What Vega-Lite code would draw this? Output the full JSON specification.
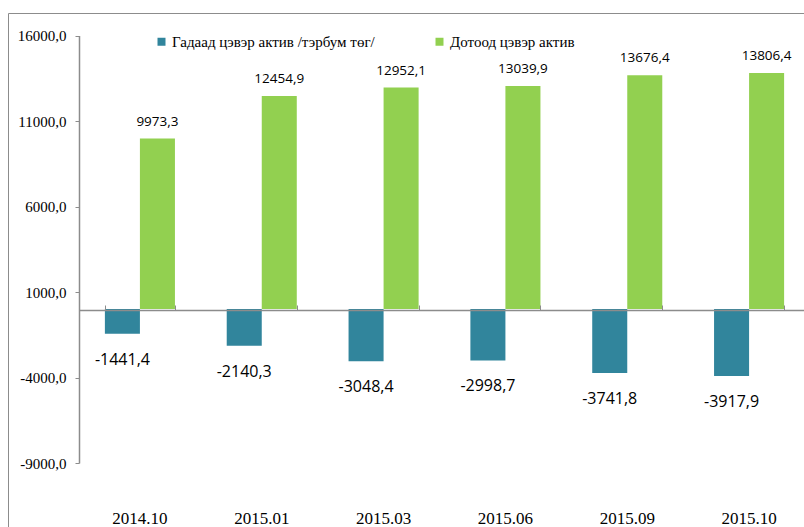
{
  "$schema": "https://vega.github.io/schema/vega-lite/v6.json",
  "width": 796,
  "height": 514,
  "autosize": {"type": "none"},
  "padding": {"left": 8, "top": 13, "right": 0, "bottom": 0},
  "config": {
    "locale": {"number": {"decimal": ",", "thousands": "", "grouping": [3], "currency": ["", ""], "minus": "-"}},
    "view": {"stroke": "#8c8c8c", "strokeWidth": 1},
    "axis": {"grid": false, "title": null}
  },
  "data": {
    "values": [
      {"period": "2014.10", "series": "Гадаад цэвэр актив /тэрбум төг/", "value": -1441.4},
      {"period": "2014.10", "series": "Дотоод цэвэр актив", "value": 9973.3},
      {"period": "2015.01", "series": "Гадаад цэвэр актив /тэрбум төг/", "value": -2140.3},
      {"period": "2015.01", "series": "Дотоод цэвэр актив", "value": 12454.9},
      {"period": "2015.03", "series": "Гадаад цэвэр актив /тэрбум төг/", "value": -3048.4},
      {"period": "2015.03", "series": "Дотоод цэвэр актив", "value": 12952.1},
      {"period": "2015.06", "series": "Гадаад цэвэр актив /тэрбум төг/", "value": -2998.7},
      {"period": "2015.06", "series": "Дотоод цэвэр актив", "value": 13039.9},
      {"period": "2015.09", "series": "Гадаад цэвэр актив /тэрбум төг/", "value": -3741.8},
      {"period": "2015.09", "series": "Дотоод цэвэр актив", "value": 13676.4},
      {"period": "2015.10", "series": "Гадаад цэвэр актив /тэрбум төг/", "value": -3917.9},
      {"period": "2015.10", "series": "Дотоод цэвэр актив", "value": 13806.4}
    ]
  },
  "layer": [
    {
      "mark": {"type": "bar"},
      "encoding": {
        "x": {
          "field": "period", "type": "nominal", "sort": null,
          "scale": {"range": [71, 802], "paddingInner": 0.425, "paddingOuter": 0.2125},
          "axis": {"orient": "bottom", "offset": -20, "domain": false, "ticks": false, "labelAngle": 0, "labelPadding": 3.5, "labelFont": "Liberation Serif", "labelFontSize": 17, "labelFontWeight": "normal", "labelColor": "black"}
        },
        "xOffset": {
          "field": "series", "type": "nominal",
          "sort": ["Гадаад цэвэр актив /тэрбум төг/", "Дотоод цэвэр актив"],
          "scale": {"domain": ["Гадаад цэвэр актив /тэрбум төг/", "Дотоод цэвэр актив"], "paddingInner": 0, "paddingOuter": 0}
        },
        "y": {
          "field": "value", "type": "quantitative",
          "scale": {"domain": [-9000, 16000], "range": [450, 22.5], "nice": false, "zero": false},
          "axis": {"orient": "left", "offset": -71, "values": [-9000, -4000, 1000, 6000, 11000, 16000], "format": ".1f", "labelFont": "Liberation Serif", "labelFontSize": 15, "labelFontWeight": "normal", "labelColor": "black", "domainColor": "#8c8c8c", "domainWidth": 1.5, "tickColor": "#8c8c8c", "tickSize": 4, "labelPadding": 9, "zindex": 1}
        },
        "color": {
          "field": "series", "type": "nominal",
          "scale": {"domain": ["Гадаад цэвэр актив /тэрбум төг/", "Дотоод цэвэр актив"], "range": ["#31859C", "#92D050"]},
          "legend": {"title": null, "orient": "none", "legendX": 146, "legendY": 21, "direction": "horizontal", "symbolType": "square", "symbolSize": 64, "symbolStrokeWidth": 0, "labelFont": "Liberation Serif", "labelFontSize": 15, "labelColor": "black", "labelOffset": 3, "columnPadding": 57, "labelLimit": 400, "padding": 0}
        }
      }
    },
    {
      "transform": [{"filter": "datum.value > 0"}],
      "mark": {"type": "text", "baseline": "alphabetic", "dy": -13, "font": "Open Sans", "fontSize": 13.5, "color": "black"},
      "encoding": {
        "x": {
          "field": "period", "type": "nominal", "sort": null,
          "axis": {"orient": "top", "offset": -297, "labels": false, "tickBand": "extent", "tickSize": 5, "tickColor": "#8c8c8c", "domainColor": "#8c8c8c", "domainWidth": 1.5, "zindex": 1}
        },
        "xOffset": {
          "field": "series", "type": "nominal",
          "sort": ["Гадаад цэвэр актив /тэрбум төг/", "Дотоод цэвэр актив"],
          "scale": {"domain": ["Гадаад цэвэр актив /тэрбум төг/", "Дотоод цэвэр актив"]}
        },
        "y": {"field": "value", "type": "quantitative"},
        "text": {"field": "value", "type": "quantitative", "format": ".1f"}
      }
    },
    {
      "transform": [{"filter": "datum.value < 0"}],
      "mark": {"type": "text", "baseline": "alphabetic", "dy": 31, "font": "Open Sans", "fontSize": 16, "color": "black"},
      "encoding": {
        "x": {"field": "period", "type": "nominal", "sort": null, "axis": null},
        "xOffset": {
          "field": "series", "type": "nominal",
          "sort": ["Гадаад цэвэр актив /тэрбум төг/", "Дотоод цэвэр актив"],
          "scale": {"domain": ["Гадаад цэвэр актив /тэрбум төг/", "Дотоод цэвэр актив"]}
        },
        "y": {"field": "value", "type": "quantitative"},
        "text": {"field": "value", "type": "quantitative", "format": ".1f"}
      }
    }
  ],
  "resolve": {"axis": {"x": "independent"}}
}
